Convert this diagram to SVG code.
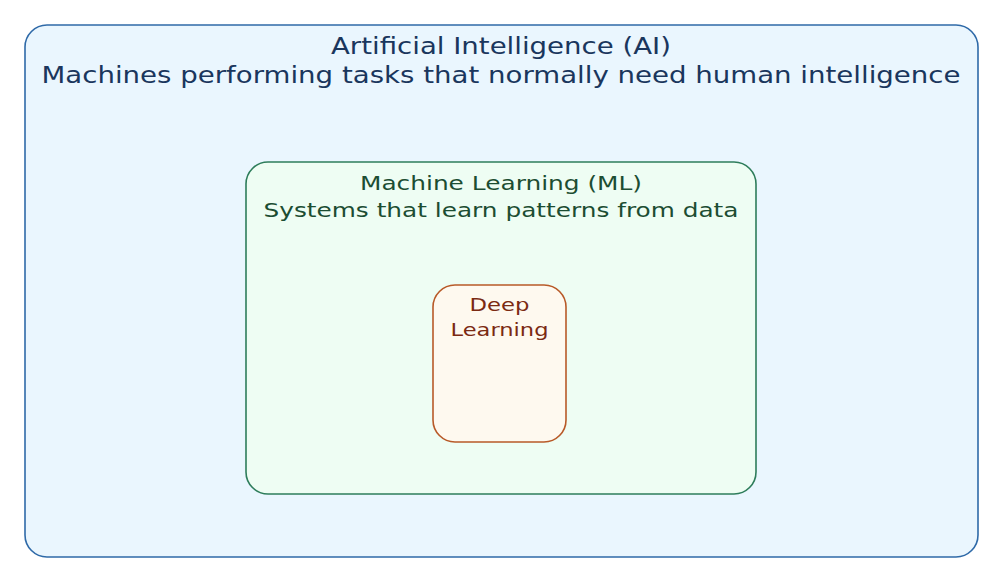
<svg xmlns="http://www.w3.org/2000/svg" width="1004" height="583" viewBox="0 0 1004 583">
<style>
text{font-family:"DejaVu Sans",sans-serif;text-anchor:middle}
.ai{fill:#1a365d;font-size:23px}
.ml{fill:#1c4d32;font-size:20px}
.dl{fill:#7b2a12;font-size:18.5px}
</style>
<rect width="1004" height="583" fill="#fff"/>
<g id="ai">
<rect x="25" y="25" width="953" height="532" rx="22" fill="#eaf6fe" stroke="#2f6aa8" stroke-width="1.6"/>
<text class="ai" x="501" y="54" textLength="340" lengthAdjust="spacingAndGlyphs">Artificial Intelligence (AI)</text>
<text class="ai" x="501" y="83" textLength="919" lengthAdjust="spacingAndGlyphs">Machines performing tasks that normally need human intelligence</text>
</g>
<g id="ml">
<rect x="246" y="162" width="510" height="332" rx="22" fill="#eefdf3" stroke="#2e7d5b" stroke-width="1.6"/>
<text class="ml" x="501" y="190" textLength="282" lengthAdjust="spacingAndGlyphs">Machine Learning (ML)</text>
<text class="ml" x="501" y="217" textLength="475" lengthAdjust="spacingAndGlyphs">Systems that learn patterns from data</text>
</g>
<g id="dl">
<rect x="433" y="285" width="133" height="157" rx="22" fill="#fef9ef" stroke="#b85a28" stroke-width="1.6"/>
<text class="dl" x="499.5" y="311" textLength="60" lengthAdjust="spacingAndGlyphs">Deep</text>
<text class="dl" x="499.5" y="336" textLength="98" lengthAdjust="spacingAndGlyphs">Learning</text>
</g>
<g id="connectors"/>
</svg>
